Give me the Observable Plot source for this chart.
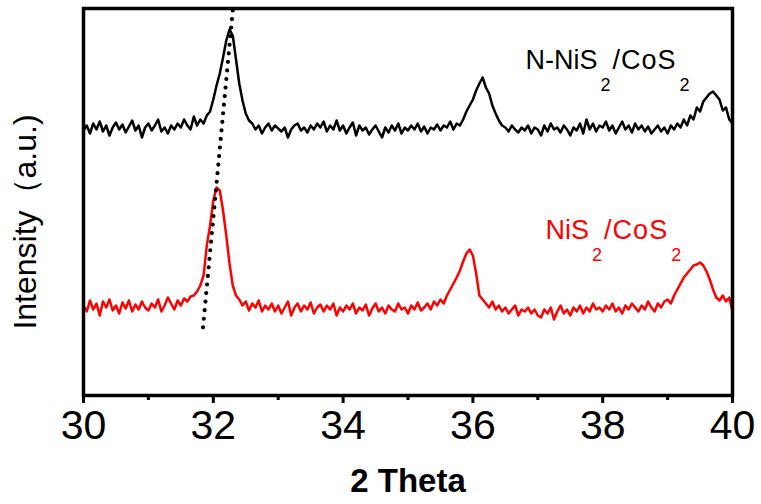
<!DOCTYPE html>
<html><head><meta charset="utf-8">
<script src="https://cdn.jsdelivr.net/npm/d3@7"></script>
<script src="https://cdn.jsdelivr.net/npm/@observablehq/plot@0.6"></script>
<style>html,body{margin:0;padding:0;background:#fff}</style>
</head><body><div id="chart"></div>
<script>
// 2θ sampling grid of the read-off values
const xStart = 30, xStep = 0.05;

// N-NiS2/CoS2 (black), intensity (a.u.) at 30.00, 30.05, ... 40.00
const blackValues = [
  265,270,262,272,266,274,264,270,260,268,273,266,271,263,269,275,265,270,258,268,
  272,265,270,276,264,268,262,270,266,272,268,276,270,266,279,270,276,272,280,284,
  296,310,322,338,355,366,360,336,312,295,282,275,272,266,270,262,268,272,265,270,
  267,264,268,258,266,270,272,265,268,263,270,266,272,268,274,264,270,266,275,265,
  270,262,268,273,260,270,265,268,261,266,270,264,258,268,263,270,265,272,262,268,
  265,270,266,272,264,269,262,268,266,271,265,270,268,274,266,272,270,276,284,290,
  296,305,312,318,308,302,290,282,275,270,268,264,270,266,263,268,265,270,262,268,
  266,260,270,264,272,266,268,263,270,266,260,268,265,272,262,276,266,272,264,270,
  268,274,265,270,262,268,274,266,270,263,272,266,270,264,269,262,266,270,264,268,
  262,270,266,272,268,276,270,280,276,288,284,294,298,302,304,300,296,285,288,276,
  272
];

// NiS2/CoS2 (red)
const redValues = [
  90,84,95,86,92,80,94,88,96,85,90,82,93,87,95,84,91,86,94,88,
  85,92,88,96,84,90,98,92,86,95,90,97,94,99,100,104,110,120,150,170,
  195,208,205,185,160,132,110,100,96,90,94,85,92,88,95,84,90,86,92,84,
  90,82,88,94,80,88,92,84,90,86,93,82,88,91,84,90,86,92,80,88,
  84,90,86,92,82,88,85,91,80,87,92,84,88,82,90,86,84,92,86,88,
  82,90,86,93,85,88,92,86,94,90,96,92,100,106,112,118,125,134,142,146,
  140,122,100,96,92,88,94,86,90,84,88,82,86,90,80,86,84,88,82,86,
  80,78,86,82,88,76,84,90,82,86,80,88,84,90,82,88,84,92,86,88,
  84,90,86,92,84,88,82,90,86,92,88,84,90,86,94,88,84,92,88,94,
  96,92,100,106,112,118,122,126,130,131,133,130,124,116,106,98,95,100,94,98,
  84
];

const seriesNames = ["N-NiS2/CoS2", "NiS2/CoS2"];
const seriesColors = ["#000000", "#ff0000"];
// label anchor (2θ, intensity) of each series name
const labelX = [36.81, 37.12];
const labelY = [327, 157];

// dotted guide joining the two shifted peaks
const guideX = [32.30, 31.84];
const guideY = [385, 67];

const majorTicks = [30, 32, 34, 36, 38, 40];
const minorTicks = [31, 33, 35, 37, 39];
const xDomain = [30, 40];
const yDomain = [0, 387];
const xTitle = "2 Theta";
const yTitle = "Intensity（a.u.)";

const rows = [];
[blackValues, redValues].forEach((vals, s) => {
  vals.forEach((v, i) => rows.push({series: seriesNames[s], x: +(xStart + i * xStep).toFixed(2), y: v}));
});
const guide = guideX.map((x, i) => ({x, y: guideY[i]}));
const labels = seriesNames.map((name, i) => ({name, x: labelX[i], y: labelY[i], color: seriesColors[i]}));

const plot = Plot.plot({
  width: 761,
  height: 504,
  marginLeft: 83,
  marginRight: 29,
  marginTop: 8,
  marginBottom: 109,
  style: {fontFamily: "'Liberation Sans', Arial, sans-serif", background: "#fff"},
  x: {domain: xDomain},
  y: {domain: yDomain, axis: null},
  color: {domain: seriesNames, range: seriesColors},
  marks: [
    Plot.line(rows, {x: "x", y: "y", z: "series", stroke: "series", strokeWidth: 2.5, strokeLinejoin: "round"}),
    Plot.line(guide, {x: "x", y: "y", stroke: "black", strokeWidth: 4.2, strokeDasharray: "0,8.6", strokeLinecap: "round"}),
    Plot.text(labels, {x: "x", y: "y", text: "name", fill: "color", fontSize: 27, textAnchor: "start", lineAnchor: "bottom", className: "series-label"}),
    Plot.frame({stroke: "black", strokeWidth: 3.5}),
    Plot.axisX({ticks: minorTicks, tickSize: 5, strokeWidth: 3, tickFormat: () => "", label: null}),
    Plot.axisX({ticks: majorTicks, tickSize: 8, tickPadding: 6, strokeWidth: 3, fontSize: 41, tickFormat: d => String(d),
      label: xTitle, labelAnchor: "center", labelArrow: false, labelOffset: 96}),
    Plot.text([yTitle], {frameAnchor: "left", rotate: -90, dx: -48, dy: 20, fontSize: 32, textAnchor: "middle", lineAnchor: "bottom"})
  ]
});

// subscripts for the series names
d3.select(plot).selectAll(".series-label text").each(function () {
  const el = this;
  const parts = el.textContent.split(/(\d)/).filter(p => p);
  el.textContent = "";
  let down = false, k = 0;
  parts.forEach(p => {
    const t = document.createElementNS("http://www.w3.org/2000/svg", "tspan");
    t.textContent = p;
    if (/^\d$/.test(p)) {
      t.setAttribute("dy", 22); t.setAttribute("dx", 3); t.setAttribute("font-size", 18); down = true;
    } else {
      t.setAttribute("font-size", 27);
      if (k > 0) t.setAttribute("letter-spacing", 1);
      if (down) { t.setAttribute("dy", -22); t.setAttribute("dx", 2); down = false; }
      k++;
    }
    el.appendChild(t);
  });
});
// bold axis title
d3.select(plot).selectAll("text").filter(function () { return this.textContent === xTitle; })
  .attr("font-weight", "bold").attr("font-size", 33);

document.getElementById("chart").appendChild(plot);
</script>
</body></html>
